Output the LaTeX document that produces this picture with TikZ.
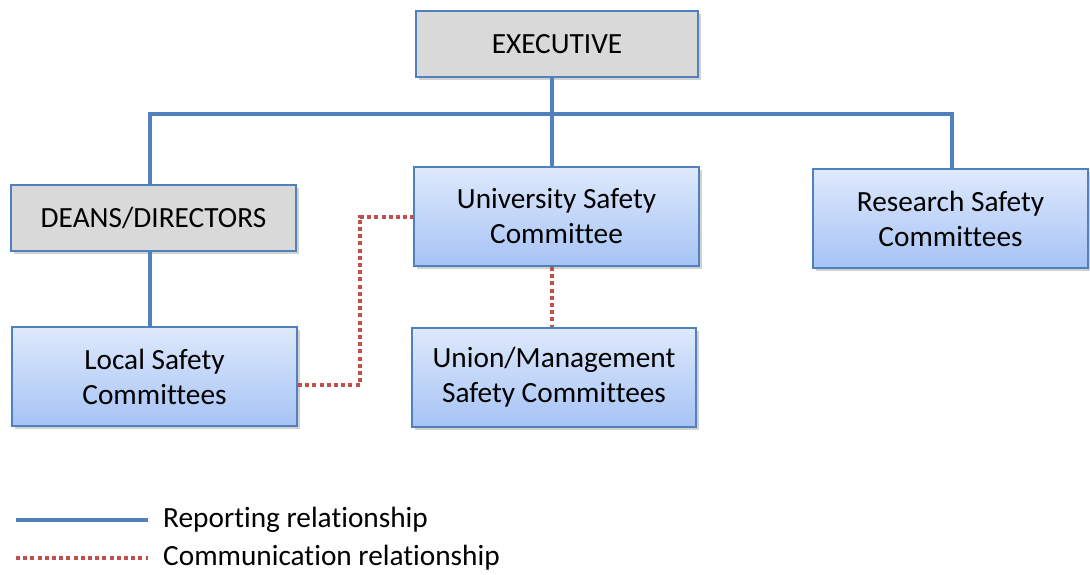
\documentclass[tikz,border=0pt]{standalone}
\usepackage{fontspec}
\setmainfont{Carlito}[Ligatures=NoCommon]
\usetikzlibrary{shadows}
\definecolor{bord}{HTML}{4F81BD}
\definecolor{redl}{HTML}{C0504D}
\definecolor{grayf}{HTML}{D9D9D9}
\definecolor{bluetop}{HTML}{DEE9FC}
\definecolor{bluebot}{HTML}{A6C3F5}
\tikzset{
  box/.style={draw=bord, line width=2pt, align=center, inner sep=0pt,
    font=\fontsize{29.3}{35}\selectfont,
    drop shadow={shadow xshift=2.5pt, shadow yshift=-3pt, opacity=0.3, fill=black!60}},
  graybox/.style={box, fill=grayf},
  bluebox/.style={box, top color=bluetop, bottom color=bluebot},
  report/.style={draw=bord, line width=3.6pt},
  comm/.style={draw=redl, line width=4pt, dash pattern=on 4pt off 3.2pt},
  legtext/.style={anchor=west, inner sep=0pt, font=\fontsize{29.3}{35}\selectfont}
}
\begin{document}
\begin{tikzpicture}[x=1pt,y=-1pt]
\useasboundingbox (0,0) rectangle (1090,575);
\node[graybox, minimum width=282pt, minimum height=66pt] (exec) at (557,44) {EXECUTIVE};
\node[graybox, minimum width=285pt, minimum height=66pt] (deans) at (153.5,218) {DEANS/DIRECTORS};
\node[bluebox, minimum width=285pt, minimum height=99pt] (local) at (154.5,376.5) {Local Safety\\Committees};
\node[bluebox, minimum width=285pt, minimum height=99pt] (usc) at (556.5,216.5) {University Safety\\Committee};
\node[bluebox, minimum width=284pt, minimum height=99pt] (union) at (554,377.5) {Union/Management\\Safety Committees};
\node[bluebox, minimum width=275pt, minimum height=99pt] (rsc) at (950.5,218.5) {Research Safety\\Committees};
\coordinate (bus) at (552,114);
\coordinate (busL) at (150,114);
\coordinate (busR) at (952,114);
\coordinate (rc) at (360,385);
\coordinate (rt) at (360,216.5);
\draw[report] (bus |- exec.south) -- (bus |- usc.north);
\draw[report] (busL |- deans.north) -- (busL) -- (busR) -- (busR |- rsc.north);
\draw[report] (busL |- deans.south) -- (busL |- local.north);
\draw[comm] (local.east |- rc) -- (rc) -- (rt) -- (usc.west);
\draw[comm] (bus |- usc.south) -- (bus |- union.north);
% legend
\coordinate (l1a) at (16,520);
\coordinate (l1b) at (148,520);
\coordinate (l2a) at (16,558);
\coordinate (l2b) at (148,558);
\draw[report] (l1a) -- (l1b);
\draw[comm] (l2a) -- (l2b);
\node[legtext] (t1) at (163,520) {Reporting relationship};
\node[legtext] (t2) at (163,558) {Communication relationship};
\end{tikzpicture}
\end{document}
